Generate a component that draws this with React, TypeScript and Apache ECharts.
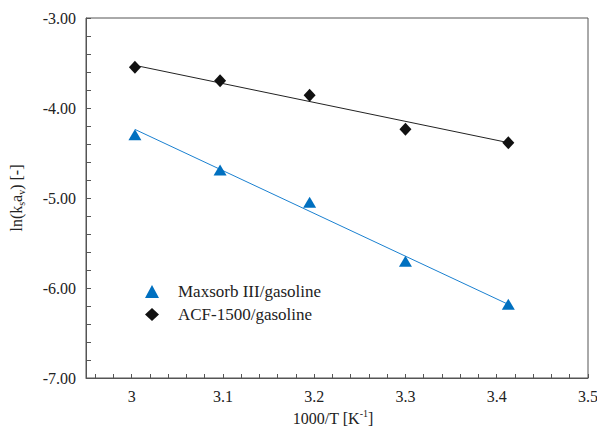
import React, { useEffect, useRef } from "react";
import * as echarts from "echarts";

// 1000/T values [K^-1]
const xValues = [3.0036, 3.0969, 3.195, 3.3, 3.4127];
// ln(ks av) for Maxsorb III/gasoline
const maxsorbValues = [-4.296, -4.689, -5.048, -5.704, -6.181];
// ln(ks av) for ACF-1500/gasoline
const acfValues = [-3.548, -3.696, -3.859, -4.237, -4.385];
// Fitted line end points
const fitX = [3.0036, 3.4127];
const maxsorbFit = [-4.238, -6.182];
const acfFit = [-3.526, -4.385];

const xTickLabels = [3, 3.1, 3.2, 3.3, 3.4, 3.5];
const yTickLabels = [-7, -6, -5, -4, -3];

const seriesNames = ["Maxsorb III/gasoline", "ACF-1500/gasoline"];

const BLUE = "#0070c0";
const BLACK = "#111111";
const AXIS = "#555555";
const TEXT = "#222222";
const FONT = "Liberation Serif";

export default function App() {
  const ref = useRef<HTMLDivElement>(null);

  useEffect(() => {
    if (!ref.current) return;
    const chart = echarts.init(ref.current, null, { renderer: "svg" });

    const minorX: number[] = [];
    for (let i = 0; i <= 27; i++) minorX.push(+(2.96 + i * 0.02).toFixed(2));

    chart.setOption({
      animation: false,
      backgroundColor: "#ffffff",
      textStyle: { fontFamily: FONT, color: TEXT },
      grid: {
        left: 86,
        top: 18,
        right: 9,
        bottom: 50,
        outerBoundsMode: "none",
        containLabel: false,
        show: true,
        borderColor: AXIS,
        borderWidth: 1,
        backgroundColor: "transparent",
      },
      legend: {
        orient: "vertical",
        left: 140,
        top: 278,
        itemGap: 6,
        itemWidth: 14,
        itemHeight: 13,
        data: seriesNames,
        itemStyle: { opacity: 1 },
        textStyle: {
          fontFamily: FONT,
          fontSize: 17,
          color: TEXT,
          padding: [0, 0, 0, 14],
        },
      },
      xAxis: {
        type: "value",
        min: 2.95,
        max: 3.5,
        name: "1000/T [K{sup|-1}]",
        nameLocation: "middle",
        nameGap: 28,
        nameTextStyle: {
          fontFamily: FONT,
          fontSize: 16,
          color: TEXT,
          lineHeight: 20,
          padding: [0, 8, 0, 0],
          rich: {
            sup: { fontSize: 10, fontFamily: FONT, color: TEXT, verticalAlign: "top", lineHeight: 13 },
          },
        },
        splitLine: { show: false },
        axisLine: { show: true, lineStyle: { color: AXIS, width: 1 } },
        axisTick: {
          show: true,
          inside: true,
          length: 4,
          customValues: minorX,
          lineStyle: { color: AXIS },
        },
        axisLabel: {
          customValues: xTickLabels,
          fontFamily: FONT,
          fontSize: 16,
          color: TEXT,
          margin: 10,
          formatter: (v: number) => String(v),
        },
      },
      yAxis: {
        type: "value",
        min: yTickLabels[0],
        max: yTickLabels[yTickLabels.length - 1],
        interval: 1,
        name: "ln(k{sub|s}a{sub|v}) [-]",
        nameLocation: "middle",
        nameGap: 60,
        nameRotate: 90,
        nameTextStyle: {
          fontFamily: FONT,
          fontSize: 16,
          color: TEXT,
          lineHeight: 20,
          rich: {
            sub: { fontSize: 10, fontFamily: FONT, color: TEXT, verticalAlign: "bottom", lineHeight: 13 },
          },
        },
        splitLine: { show: false },
        axisLine: { show: true, lineStyle: { color: AXIS, width: 1 } },
        axisTick: { show: true, inside: true, length: 5, lineStyle: { color: AXIS } },
        minorTick: { show: true, splitNumber: 5, length: 5, lineStyle: { color: AXIS } },
        axisLabel: {
          fontFamily: FONT,
          fontSize: 16,
          color: TEXT,
          margin: 10,
          formatter: (v: number) => v.toFixed(2),
        },
      },
      series: [
        {
          name: "Maxsorb fit",
          type: "line",
          data: fitX.map((x, i) => [x, maxsorbFit[i]]),
          symbol: "none",
          lineStyle: { color: "#1a80d0", width: 1 },
          z: 1,
        },
        {
          name: "ACF fit",
          type: "line",
          data: fitX.map((x, i) => [x, acfFit[i]]),
          symbol: "none",
          lineStyle: { color: "#222222", width: 1 },
          z: 1,
        },
        {
          name: seriesNames[0],
          type: "scatter",
          symbol: "triangle",
          symbolSize: [13, 11],
          itemStyle: { color: BLUE, opacity: 1 },
          data: xValues.map((x, i) => [x, maxsorbValues[i]]),
          z: 3,
        },
        {
          name: seriesNames[1],
          type: "scatter",
          symbol: "diamond",
          symbolSize: [12, 13],
          itemStyle: { color: BLACK, opacity: 1 },
          data: xValues.map((x, i) => [x, acfValues[i]]),
          z: 3,
        },
      ],
    });

    return () => chart.dispose();
  }, []);

  return (
    <div
      ref={ref}
      style={{ position: "fixed", left: 0, top: 0, width: 597, height: 428, background: "#fff" }}
    />
  );
}
